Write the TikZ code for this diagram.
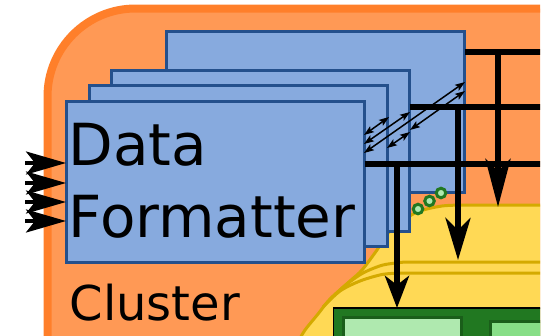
\documentclass[tikz,border=0pt]{standalone}
\usepackage{fontspec}
\setmainfont{DejaVu Sans}
\usetikzlibrary{arrows.meta}
\definecolor{orfill}{HTML}{FF9955}
\definecolor{orline}{HTML}{FF7F2A}
\definecolor{blfill}{HTML}{87AADE}
\definecolor{blline}{HTML}{24508C}
\definecolor{yefill}{HTML}{FFD955}
\definecolor{yeline}{HTML}{D4AA00}
\definecolor{gndark}{HTML}{217821}
\definecolor{gnlight}{HTML}{AFE9AF}
\definecolor{gnmid}{HTML}{87DE87}
\definecolor{gnline}{HTML}{1A5E1A}
\begin{document}
\begin{tikzpicture}[x=1pt,y=-1pt,
  bluebox/.style={draw=blline, fill=blfill, line width=3pt, minimum width=298.5pt, minimum height=161.5pt, inner sep=0pt, outer sep=0pt, anchor=north west},
  bus/.style={line width=5.5pt, draw=black},
  thinarr/.style={line width=1.5pt, {Stealth[length=10pt,width=7pt,inset=2pt]}-{Stealth[length=10pt,width=7pt,inset=2pt]}},
  inarr/.style={line width=3.5pt, -{Stealth[length=40pt,width=23pt,inset=9pt]}},
  yeline/.style={draw=yeline, line width=3pt},
  dotnode/.style={circle, draw=gndark, fill=gnlight, line width=3pt, minimum size=9.5pt, inner sep=0pt},
  bigtext/.style={anchor=base west, inner sep=0pt, font=\fontsize{58}{68}\selectfont},
  gbox/.style={anchor=north west, inner sep=0pt, outer sep=0pt}
]
\useasboundingbox (0,0) rectangle (551,335);
\begin{scope}
\clip (0,0) rectangle (540,335);
% orange cluster
\draw[fill=orfill, draw=orline, line width=8pt, rounded corners=88pt] (47.5,8.5) rectangle (900,700);
% yellow stack
\path[fill=yefill] (560,205) -- plot[smooth] coordinates {(470,205) (442,206) (415,213) (390,231) (377,250) (362,270) (350,281) (330,299) (318,314) (305,330) (298,342)} -- (298,360) -- (560,360) -- cycle;
\draw[yeline] (560,205) -- plot[smooth] coordinates {(470,205) (442,206) (415,213) (390,231) (377,250) (362,270) (350,281) (330,299) (318,314) (305,330) (298,342)};
\draw[yeline] (560,262) -- plot[smooth] coordinates {(405,262) (383,265) (363,273) (347,284) (337,293)};
\draw[yeline] (560,273) -- plot[smooth] coordinates {(400,273) (382,274.5) (360,281) (340,291) (323,307)};
% blue stack
\node[bluebox] (b4) at (166,31) {};
\node[bluebox] (b3) at (111,70) {};
\node[bluebox] (b2) at (89,85) {};
\node[bluebox] (b1) at (66,101) {};
\node[bigtext] (tdata) at (68.5,165) {Data};
\node[bigtext] (tform) at (68.5,237) {Formatter};
\node[anchor=base west, inner sep=0pt, font=\fontsize{48}{56}\selectfont] (tclus) at (69.5,320) {Cluster};
% diagonal links
\coordinate (a1s) at (364,135); \coordinate (a1e) at (389,117);
\coordinate (a2s) at (364,144); \coordinate (a2e) at (410,112);
\coordinate (a3s) at (364,153); \coordinate (a3e) at (465,82);
\coordinate (a4s) at (387,148); \coordinate (a4e) at (410,132);
\coordinate (a5s) at (410,130); \coordinate (a5e) at (465,91);
\draw[thinarr] (a1s) -- (a1e);
\draw[thinarr] (a2s) -- (a2e);
\draw[thinarr] (a3s) -- (a3e);
\draw[thinarr] (a4s) -- (a4e);
\draw[thinarr] (a5s) -- (a5e);
% input arrows
\coordinate (in1) at (25,163);
\coordinate (in2) at (25,183);
\coordinate (in3) at (25,202);
\coordinate (in4) at (25,221);
\draw[inarr] (in1) -- (in1 -| b1.west);
\draw[inarr] (in2) -- (in2 -| b1.west);
\draw[inarr] (in3) -- (in3 -| b1.west);
\draw[inarr] (in4) -- (in4 -| b1.west);
% bus
\coordinate (r1) at (545,52);
\coordinate (r2) at (545,107);
\coordinate (r3) at (545,164);
\draw[bus] (b4.east |- r1) -- (r1);
\draw[bus] (b3.east |- r2) -- (r2);
\draw[bus] (b1.east |- r3) -- (r3);
\coordinate (v1) at (498,50);  \coordinate (w1) at (498,207);
\coordinate (v2) at (458,105); \coordinate (w2) at (458,260);
\coordinate (v3) at (397,162); \coordinate (w3) at (397,308);
\draw[bus, -{Stealth[length=48pt,width=25pt,inset=12pt]}] (v1) -- (w1);
\draw[bus, -{Stealth[length=42pt,width=25pt,inset=12pt]}] (v2) -- (w2);
\draw[bus, -{Stealth[length=32pt,width=24pt,inset=9pt]}] (v3) -- (w3);
% green boxes
\node[gbox, draw=black, fill=gndark, line width=1.5pt, minimum width=300pt, minimum height=100pt] (g0) at (333.5,308) {};
\node[gbox, draw=gnline, fill=gnlight, line width=3pt, minimum width=118pt, minimum height=100pt] (g1) at (343.5,317) {};
\node[gbox, draw=gnline, fill=gnmid, line width=3pt, minimum width=100pt, minimum height=100pt] (g2) at (490,321.5) {};
% ellipsis dots
\node[dotnode] (d1) at (418,209) {};
\node[dotnode] (d2) at (429.5,201) {};
\node[dotnode] (d3) at (441,193) {};
\end{scope}
\end{tikzpicture}
\end{document}
